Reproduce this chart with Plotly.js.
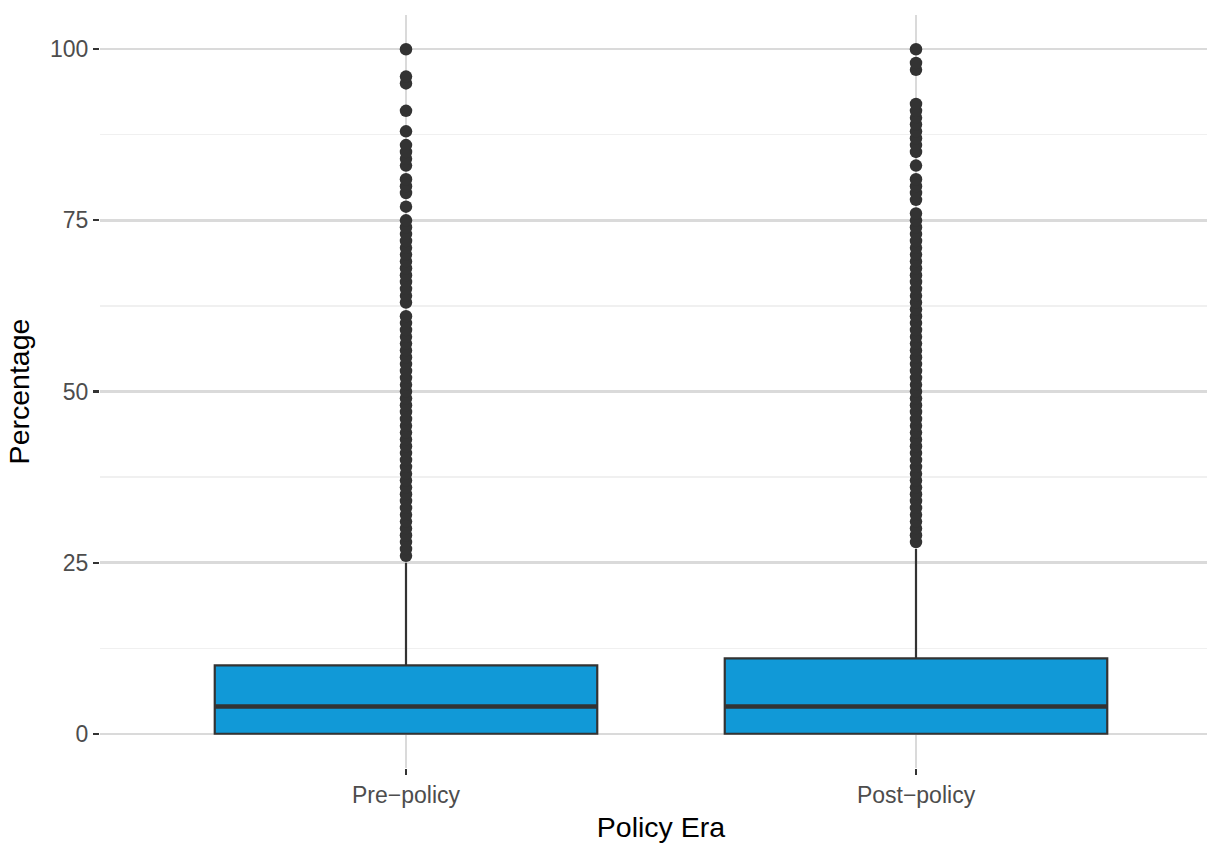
<!DOCTYPE html>
<html>
<head>
<meta charset="utf-8">
<script src="https://cdn.plot.ly/plotly-3.0.1.min.js"></script>
<style>
html, body { margin: 0; padding: 0; overflow: hidden; background: #ffffff; }
#chart { width: 1232px; height: 846px; }
</style>
</head>
<body>
<div id="chart"></div>
<script>
// Categories
const categories = ["Pre\u2212policy", "Post\u2212policy"];

// Box statistics
const q1Values = [0, 0];
const medianValues = [4, 4];
const q3Values = [10, 11];
const lowerFenceValues = [0, 0];
const upperFenceValues = [25, 27];

// Outliers
const preOutliers = [26, 27, 28, 29, 30, 31, 32, 33, 34, 35, 36, 37, 38, 39, 40,
  41, 42, 43, 44, 45, 46, 47, 48, 49, 50, 51, 52, 53, 54, 55, 56, 57, 58, 59, 60, 61,
  63, 64, 65, 66, 67, 68, 69, 70, 71, 72, 73, 74, 75,
  77, 79, 80, 81, 83, 84, 85, 86, 88, 91, 95, 96, 100];
const postOutliers = [28, 29, 30, 31, 32, 33, 34, 35, 36, 37, 38, 39, 40,
  41, 42, 43, 44, 45, 46, 47, 48, 49, 50, 51, 52, 53, 54, 55, 56, 57, 58, 59, 60,
  61, 62, 63, 64, 65, 66, 67, 68, 69, 70, 71, 72, 73, 74, 75, 76,
  78, 79, 80, 81, 83, 85, 86, 87, 88, 89, 90, 91, 92, 97, 98, 100];

// Tick labels
const yTickVals = [0, 25, 50, 75, 100];
const yTickText = ["0", "25", "50", "75", "100"];

const lineColor = "#333333";
const fillColor = "#1199D7";

const outX = [];
const outY = [];
preOutliers.forEach(v => { outX.push(categories[0]); outY.push(v); });
postOutliers.forEach(v => { outX.push(categories[1]); outY.push(v); });

const boxTrace = {
  type: "box",
  x: categories,
  q1: q1Values,
  median: medianValues,
  q3: q3Values,
  lowerfence: lowerFenceValues,
  upperfence: upperFenceValues,
  width: 0.75,
  whiskerwidth: 0,
  fillcolor: fillColor,
  line: { color: lineColor, width: 2.2 },
  hoverinfo: "skip",
  showlegend: false
};

// Thicker median line drawn as a zero-height box at the median
const medianTrace = {
  type: "box",
  x: categories,
  q1: medianValues,
  median: medianValues,
  q3: medianValues,
  lowerfence: medianValues,
  upperfence: medianValues,
  width: 0.75,
  whiskerwidth: 0,
  fillcolor: "rgba(0,0,0,0)",
  line: { color: lineColor, width: 4.5 },
  hoverinfo: "skip",
  showlegend: false
};

const outlierTrace = {
  type: "scatter",
  mode: "markers",
  x: outX,
  y: outY,
  marker: { color: lineColor, size: 12.5, line: { width: 0 } },
  hoverinfo: "y",
  showlegend: false,
  cliponaxis: false
};

const layout = {
  width: 1232,
  height: 846,
  margin: { l: 100, r: 10, t: 15, b: 77.5 },
  paper_bgcolor: "#ffffff",
  plot_bgcolor: "#ffffff",
  font: { family: "Liberation Sans, Arial, sans-serif", color: "#4D4D4D" },
  boxmode: "overlay",
  showlegend: false,
  xaxis: {
    type: "category",
    categoryorder: "array",
    categoryarray: categories,
    range: [-0.6, 1.6],
    showgrid: true,
    gridcolor: "#DADADA",
    gridwidth: 2.4,
    zeroline: false,
    showline: false,
    ticks: "outside",
    ticklen: 6,
    tickwidth: 2.2,
    tickcolor: lineColor,
    tickfont: { size: 23, color: "#4D4D4D" },
    title: { text: "Policy Era", font: { size: 28.5, color: "#000000" }, standoff: 10 },
    automargin: false,
    fixedrange: true
  },
  yaxis: {
    range: [-5, 105],
    tickvals: yTickVals,
    ticktext: yTickText,
    showgrid: true,
    gridcolor: "#DADADA",
    gridwidth: 2.4,
    minor: { tickvals: [12.5, 37.5, 62.5, 87.5], showgrid: true, gridcolor: "#F0F0F0", gridwidth: 1.3, ticks: "" },
    zeroline: false,
    showline: false,
    ticks: "outside",
    ticklen: 6,
    tickwidth: 2.2,
    tickcolor: lineColor,
    tickfont: { size: 23, color: "#4D4D4D" },
    title: { text: "Percentage", font: { size: 28.5, color: "#000000" }, standoff: 12 },
    automargin: false,
    fixedrange: true
  }
};

Plotly.newPlot("chart", [boxTrace, medianTrace, outlierTrace], layout, { displayModeBar: false, staticPlot: true });
</script>
</body>
</html>
